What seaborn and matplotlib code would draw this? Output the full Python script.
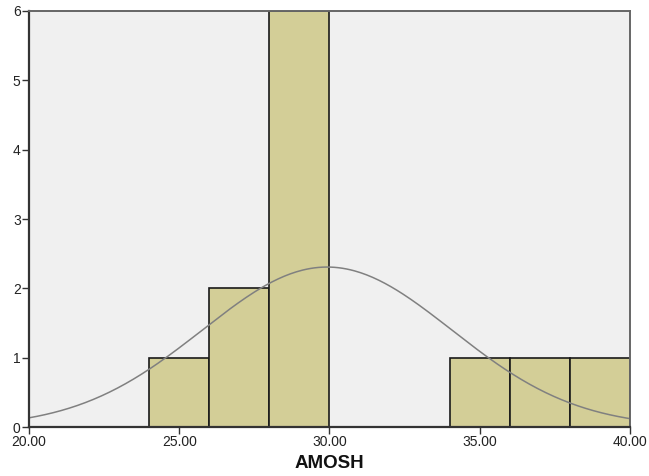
import numpy as np
import matplotlib
matplotlib.use("Agg")
import matplotlib.pyplot as plt
import seaborn as sns

# DATOS

bin_edges = [20, 22, 24, 26, 28, 30, 32, 34, 36, 38, 40]
bin_counts = [0, 0, 1, 2, 6, 0, 0, 1, 1, 1]
media = 29.92
desv_std = 4.15
n_total = 12
x_ticks = [20, 25, 30, 35, 40]
y_ticks = [0, 1, 2, 3, 4, 5, 6]

sns.set_style("white")
plt.rcParams["font.family"] = ["Liberation Sans", "DejaVu Sans"]

fig = plt.figure(figsize=(6.49, 4.76), dpi=100)
ax = fig.add_axes([0.0447, 0.1029, 0.926, 0.874])
ax.set_facecolor("#F0F0F0")

centros = [(a + b) / 2 for a, b in zip(bin_edges[:-1], bin_edges[1:])]
sns.histplot(
    x=centros,
    weights=bin_counts,
    bins=bin_edges,
    color="#D3CE97",
    alpha=1,
    edgecolor="#1a1a1a",
    linewidth=1.2,
    ax=ax
)

# Curva normal
xs = np.linspace(20, 40, 300)
ancho = bin_edges[1] - bin_edges[0]
ys = n_total * ancho * np.exp(-0.5 * ((xs - media) / desv_std) ** 2) / (desv_std * np.sqrt(2 * np.pi))
sns.lineplot(x=xs, y=ys, color="#808080", linewidth=1.1, ax=ax)

ax.set_xlim(20, 40)
ax.set_ylim(0, 6)
ax.set_xticks(x_ticks)
ax.set_xticklabels([f"{v:.2f}" for v in x_ticks], fontsize=10, color="#222222")
ax.set_yticks(y_ticks)
ax.set_yticklabels([str(v) for v in y_ticks], fontsize=10, color="#222222")
ax.tick_params(axis="both", direction="out", length=5, width=1, color="#333333", pad=1, bottom=True, left=True)

for lado in ["left", "bottom"]:
    ax.spines[lado].set_color("#333333")
    ax.spines[lado].set_linewidth(1.6)
for lado in ["top", "right"]:
    ax.spines[lado].set_color("#666666")
    ax.spines[lado].set_linewidth(1.4)

ax.set_ylabel("")
ax.set_xlabel("AMOSH", fontsize=13.5, fontweight="bold", labelpad=4, color="#111111")

plt.savefig("out.png", dpi=100)
